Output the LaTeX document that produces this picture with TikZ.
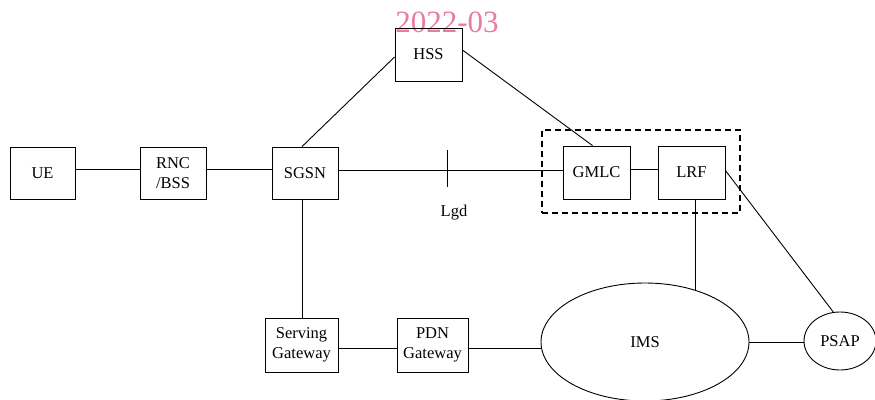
\documentclass[tikz,border=0pt]{standalone}
\usepackage{fontspec}
\setmainfont{Liberation Serif}
\usetikzlibrary{shapes.geometric,calc}
\definecolor{wmpink}{RGB}{234,122,160}
\begin{document}
\begin{tikzpicture}[x=1pt,y=-1pt,
  box/.style={draw,line width=0.9pt,inner sep=0pt,font=\fontsize{16.5}{20}\selectfont,align=center},
  oval/.style={draw,ellipse,line width=0.9pt,inner sep=0pt,font=\fontsize{16.5}{20}\selectfont},
  link/.style={line width=0.9pt}]
\useasboundingbox (0,0) rectangle (875,399);
\node[text=wmpink,font=\fontsize{31}{31}\selectfont,anchor=base] (wm) at (447,32) {2022-03};
\node[box,minimum width=65pt,minimum height=52pt] (ue) at (42.5,173) {UE};
\node[box,minimum width=66pt,minimum height=52pt] (rnc) at (173,173) {RNC\\/BSS};
\node[box,minimum width=66pt,minimum height=52pt] (sgsn) at (305,173) {SGSN};
\node[box,minimum width=67pt,minimum height=53pt] (hss) at (428.5,54.5) {HSS};
\node[box,minimum width=67pt,minimum height=53pt] (gmlc) at (596.5,172.5) {GMLC};
\node[box,minimum width=67pt,minimum height=53pt] (lrf) at (691.5,172.5) {LRF};
\node[draw,dashed,line width=2.4pt,dash pattern=on 6pt off 4pt,minimum width=198pt,minimum height=83pt] (grp) at (641,171.5) {};
\node[box,minimum width=73pt,minimum height=54pt] (sgw) at (301.5,345) {Serving\\Gateway};
\node[box,minimum width=71pt,minimum height=54pt] (pgw) at (432.5,345) {PDN\\Gateway};
\node[oval,minimum width=208pt,minimum height=118pt] (ims) at (645,342) {IMS};
\node[oval,minimum width=72pt,minimum height=58pt] (psap) at (840,341) {PSAP};
\coordinate (tickt) at (447,150);
\coordinate (tickb) at (447,187);
\node[font=\fontsize{16.5}{20}\selectfont,anchor=base] (lgd) at (454,216) {Lgd};
\draw[link] ([yshift=3.5pt]ue.east) -- ([yshift=3.5pt]ue.east -| rnc.west);
\draw[link] ([yshift=3.5pt]rnc.east) -- ([yshift=3.5pt]rnc.east -| sgsn.west);
\draw[link] ([yshift=3pt]sgsn.east) -- ([yshift=3pt]sgsn.east -| gmlc.west);
\draw[link] ([yshift=3.5pt]gmlc.east) -- ([yshift=3.5pt]gmlc.east -| lrf.west);
\draw[link] (tickt) -- (tickb);
\draw[link] ([xshift=-3pt]sgsn.north) -- ([yshift=-2.5pt]hss.west);
\draw[link] ([yshift=4.5pt]hss.east) -- ([xshift=-4pt]gmlc.north);
\draw[link] ([xshift=-3pt]sgsn.south) -- ([xshift=-3pt]sgsn.south |- sgw.north);
\draw[link] ([yshift=-3pt]sgw.east) -- ([yshift=-3pt]sgw.east -| pgw.west);
\draw[link] ([yshift=-3pt]pgw.east) -- ([yshift=-3pt]pgw.east -| ims.west);
\draw[link] (ims.46 |- lrf.south) -- (ims.46);
\draw[link] ([yshift=2pt]lrf.east) -- (psap.103);
\draw[link] (ims.east) -- (ims.east -| psap.west);
\end{tikzpicture}
\end{document}
